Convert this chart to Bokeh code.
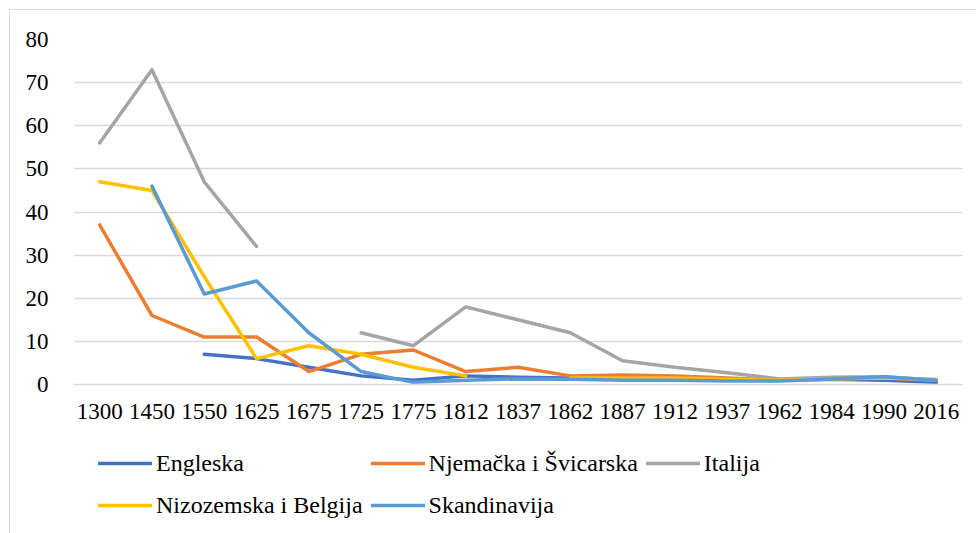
import numpy as np
from bokeh.plotting import figure
from bokeh.layouts import column
from bokeh.models import FactorRange, Legend, LegendItem, SingleIntervalTicker
from bokeh.embed import file_html
from bokeh.resources import INLINE

nan = np.nan
years = ["1300", "1450", "1550", "1625", "1675", "1725", "1775", "1812", "1837",
         "1862", "1887", "1912", "1937", "1962", "1984", "1990", "2016"]

engleska = [nan, nan, 7, 6, 4, 2, 1, 2, 1.7, 1.5, 1.5, 1.3, 1.2, 1.0, 1.2, 1.0, 0.5]
njemacka = [37, 16, 11, 11, 3, 7, 8, 3, 4, 2, 2.2, 2, 1.5, 1.0, 1.5, 1.5, 1.0]
italija = [56, 73, 47, 32, nan, 12, 9, 18, 15, 12, 5.5, 4, 2.7, 1.3, 1.7, 1.8, 1.0]
nizozemska = [47, 45, 25, 6, 9, 7, 4, 2, nan, 1.5, 1.5, 1.5, 1.2, 1.0, 1.3, 1.5, 1.2]
skandinavija = [nan, 46, 21, 24, 12, 3, 0.5, 1, 1.3, 1.2, 1.0, 1.0, 0.8, 0.8, 1.3, 1.8, 1.0]

series = [
    ("Engleska", engleska, "#4472C4"),
    ("Njemačka i Švicarska", njemacka, "#ED7D31"),
    ("Italija", italija, "#A5A5A5"),
    ("Nizozemska i Belgija", nizozemska, "#FFC000"),
    ("Skandinavija", skandinavija, "#5B9BD5"),
]

FONT = "Liberation Serif"
LW = 3.5

p = figure(
    width=966, height=428,
    x_range=FactorRange(*years, range_padding=0),
    y_range=(0, 80),
    output_backend="svg", toolbar_location=None,
    min_border_left=63, min_border_right=14, min_border_top=29, min_border_bottom=54,
)
p.outline_line_color = None

for name, vals, color in series:
    p.line(years, vals, line_color=color, line_width=LW,
           line_join="round", line_cap="round")

p.yaxis.ticker = SingleIntervalTicker(interval=10)
p.ygrid.grid_line_color = "#d9d9d9"
p.ygrid.grid_line_width = 1.3
p.xgrid.grid_line_color = None

p.yaxis.axis_line_color = None
p.yaxis.major_tick_line_color = None
p.yaxis.minor_tick_line_color = None
p.yaxis.major_label_standoff = 19
p.xaxis.axis_line_color = "#d9d9d9"
p.xaxis.axis_line_width = 1.3
p.xaxis.major_tick_line_color = None
p.xaxis.minor_tick_line_color = None
p.xaxis.major_label_standoff = 13

for ax in (p.xaxis, p.yaxis):
    ax.major_label_text_font = FONT
    ax.major_label_text_font_size = "23px"
    ax.major_label_text_color = "#000000"

# legend panel (frames are aligned by the column layout)
p2 = figure(width=966, height=95,
            x_range=FactorRange(*years, range_padding=0), y_range=(-2, -1),
            output_backend="svg", toolbar_location=None,
            min_border_left=0, min_border_right=0, min_border_top=0, min_border_bottom=0)
p2.axis.visible = False
p2.grid.grid_line_color = None
p2.outline_line_color = None

items = []
for name, vals, color in series:
    r = p2.line(years, vals, line_color=color, line_width=LW, line_cap="round")
    items.append(LegendItem(label=name, renderers=[r]))

legend = Legend(items=items, ncols=3, orientation="horizontal", location=(25, 11),
                label_text_font=FONT, label_text_font_size="24px",
                label_text_color="#000000",
                glyph_width=54, glyph_height=34, label_height=34, label_standoff=4,
                spacing=8, margin=0, padding=0,
                border_line_color=None, background_fill_alpha=0)
p2.add_layout(legend, "center")

layout = column(p, p2, spacing=0, margin=(9, 0, 0, 9),
                styles={"border-left": "1px solid #d9d9d9", "border-top": "1px solid #d9d9d9"})

open("out.html", "w").write(file_html(layout, INLINE))
